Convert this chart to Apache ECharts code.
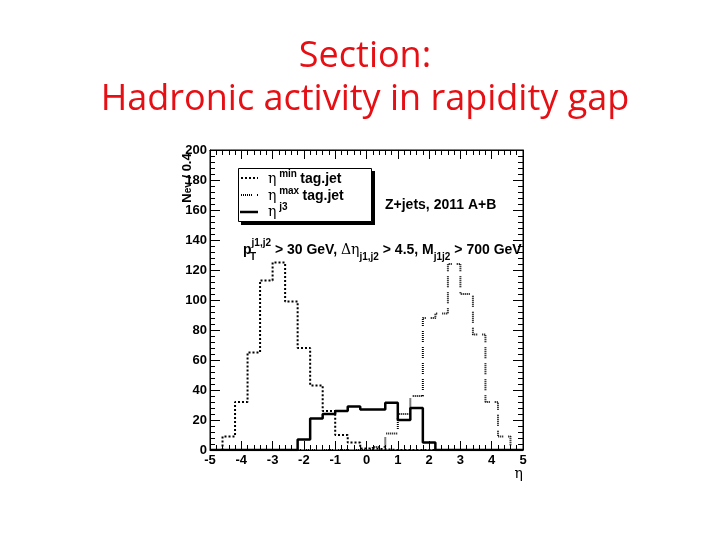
<!DOCTYPE html>
<html>
<head>
<meta charset="utf-8">
<script src="https://cdn.jsdelivr.net/npm/echarts@6/dist/echarts.min.js"></script>
<style>
  html, body { margin: 0; padding: 0; background: #fff; }
  #chart { width: 720px; height: 540px; }
</style>
</head>
<body>
<div id="chart"></div>
<script>
// bin edges in eta (25 bins of 0.4)
const etaEdges = [-5, -4.6, -4.2, -3.8, -3.4, -3, -2.6, -2.2, -1.8, -1.4, -1, -0.6, -0.2,
  0.2, 0.6, 1, 1.4, 1.8, 2.2, 2.6, 3, 3.4, 3.8, 4.2, 4.6, 5];

// events per bin
const etaMinTagJet = [0, 9, 32, 65, 113, 125, 99, 68, 43, 26, 10, 5, 1, 0.5,
  0, 0, 0, 0, 0, 0, 0, 0, 0, 0, 0];
const etaMaxTagJet = [0, 0, 0, 0, 0, 0, 0, 0, 0, 0, 0, 0, 0.5, 2,
  11, 24, 36, 88, 91, 124, 104, 77, 32, 9, 0];
const etaJ3 = [0, 0, 0, 0, 0, 0, 0, 7, 21, 24, 26, 29, 27, 27,
  31.5, 20, 28, 5, 0, 0, 0, 0, 0, 0, 0];

const xRange = [-5, 5];
const yRange = [0, 200];

// histogram outline: one point per left edge, plus the last right edge
function histPoints(vals) {
  return etaEdges.map(function (e, i) {
    return [e, i < vals.length ? vals[i] : vals[vals.length - 1]];
  });
}

var myChart = echarts.init(document.getElementById("chart"));

var labelFont = {
  fontFamily: "Liberation Sans, Arial, sans-serif",
  fontWeight: "bold",
  fontSize: 13,
  color: "#000",
};

var minDash = [2, 2];
var maxDash = [1, 1, 1, 1, 1, 1, 1, 1, 1, 1, 1, 5];

function histSeries(name, vals, width, dash) {
  return {
    name: name,
    type: "line",
    step: "end",
    showSymbol: false,
    symbol: "none",
    data: histPoints(vals),
    lineStyle: { color: "#000", width: width, type: dash },
    emphasis: { disabled: true },
    silent: true,
    z: 3,
  };
}

function sideAxis(pos, range, interval, tickLen) {
  return {
    type: "value",
    position: pos,
    min: range[0],
    max: range[1],
    interval: interval,
    axisLine: { show: true, onZero: false, lineStyle: { color: "#000", width: 1 } },
    axisTick: { show: true, inside: true, length: tickLen, lineStyle: { color: "#000" } },
    minorTick: { show: true, splitNumber: 5, length: 5, lineStyle: { color: "#000" } },
    splitLine: { show: false },
    axisLabel: { show: false },
  };
}

var legendRich = {
  e: { fontFamily: "DejaVu Serif", fontSize: 14, fill: "#000", lineHeight: 20 },
  u: { fontFamily: "Liberation Sans", fontWeight: "bold", fontSize: 10, fill: "#000", verticalAlign: "top", lineHeight: 12 },
  b: { fontFamily: "Liberation Sans", fontWeight: "bold", fontSize: 14, fill: "#000", lineHeight: 20 },
};

myChart.setOption({
  animation: false,
  backgroundColor: "#fff",
  grid: {
    left: 210,
    right: 197,
    top: 150,
    bottom: 90,
    show: true,
    borderColor: "#000",
    borderWidth: 1,
    backgroundColor: "transparent",
  },
  xAxis: [
    {
      type: "value",
      min: xRange[0],
      max: xRange[1],
      interval: 1,
      axisLine: { show: true, onZero: false, lineStyle: { color: "#000", width: 1 } },
      axisTick: { inside: true, length: 9, lineStyle: { color: "#000" } },
      minorTick: { show: true, splitNumber: 5, length: 5, lineStyle: { color: "#000" } },
      splitLine: { show: false },
      axisLabel: Object.assign({ margin: 4 }, labelFont),
    },
    sideAxis("top", xRange, 1, 9),
  ],
  yAxis: [
    {
      type: "value",
      min: yRange[0],
      max: yRange[1],
      interval: 20,
      axisLine: { show: true, onZero: false, lineStyle: { color: "#000", width: 1 } },
      axisTick: { show: true, inside: true, length: 10, lineStyle: { color: "#000" } },
      minorTick: { show: true, splitNumber: 5, length: 5, lineStyle: { color: "#000" } },
      splitLine: { show: false },
      axisLabel: Object.assign({ margin: 3 }, labelFont),
    },
    sideAxis("right", yRange, 20, 10),
  ],
  series: [
    histSeries("η min tag.jet", etaMinTagJet, 2, minDash),
    histSeries("η max tag.jet", etaMaxTagJet, 2, maxDash),
    histSeries("η j3", etaJ3, 2.5, "solid"),
  ],
  graphic: [
    // slide title
    {
      type: "text",
      x: 365,
      y: 57,
      style: {
        text: "Section:",
        font: "36px 'Open Sans', sans-serif",
        fill: "#e60f14",
        textAlign: "center",
        textVerticalAlign: "middle",
      },
    },
    {
      type: "text",
      x: 365,
      y: 100,
      style: {
        text: "Hadronic activity in rapidity gap",
        font: "36px 'Open Sans', sans-serif",
        fill: "#e60f14",
        textAlign: "center",
        textVerticalAlign: "middle",
      },
    },
    // y axis title
    {
      type: "text",
      x: 187,
      y: 178,
      rotation: Math.PI / 2,
      style: {
        text: "{n|N}{s|ev}{n| / 0.4}",
        textAlign: "center",
        textVerticalAlign: "middle",
        rich: {
          n: { fontFamily: "Liberation Sans", fontWeight: "bold", fontSize: 13, fill: "#000" },
          s: { fontFamily: "Liberation Sans", fontWeight: "bold", fontSize: 10, fill: "#000", verticalAlign: "bottom", lineHeight: 12 },
        },
      },
    },
    // x axis title
    {
      type: "text",
      x: 523,
      y: 474,
      style: {
        text: "η",
        font: "14px 'DejaVu Serif', serif",
        fill: "#000",
        textAlign: "right",
        textVerticalAlign: "middle",
      },
    },
    // legend box with shadow
    {
      type: "rect",
      shape: { x: 241, y: 171, width: 134, height: 54 },
      style: { fill: "#000" },
      z: 10,
    },
    {
      type: "rect",
      shape: { x: 238.5, y: 168.5, width: 133, height: 53 },
      style: { fill: "#fff", stroke: "#000", lineWidth: 1 },
      z: 11,
    },
    {
      type: "line",
      shape: { x1: 241, y1: 178, x2: 258, y2: 178 },
      style: { stroke: "#000", lineWidth: 2, lineDash: minDash },
      z: 12,
    },
    {
      type: "line",
      shape: { x1: 241, y1: 195, x2: 258, y2: 195 },
      style: { stroke: "#000", lineWidth: 2, lineDash: maxDash },
      z: 12,
    },
    {
      type: "line",
      shape: { x1: 240, y1: 212, x2: 258, y2: 212 },
      style: { stroke: "#000", lineWidth: 2.5 },
      z: 12,
    },
    {
      type: "text",
      x: 268,
      y: 179,
      z: 12,
      style: { text: "{e|η}{u| min} {b|tag.jet}", textVerticalAlign: "middle", rich: legendRich },
    },
    {
      type: "text",
      x: 268,
      y: 196,
      z: 12,
      style: { text: "{e|η}{u| max} {b|tag.jet}", textVerticalAlign: "middle", rich: legendRich },
    },
    {
      type: "text",
      x: 268,
      y: 212,
      z: 12,
      style: { text: "{e|η}{u| j3}", textVerticalAlign: "middle", rich: legendRich },
    },
    // dataset label
    {
      type: "text",
      x: 385,
      y: 205,
      style: {
        text: "Z+jets, 2011 A+B",
        font: "bold 14px 'Liberation Sans', Arial, sans-serif",
        fill: "#000",
        textVerticalAlign: "middle",
      },
    },
    // selection cuts
    {
      type: "text",
      x: 243,
      y: 250,
      z: 12,
      style: {
        text: "{m|p}{u|j1,j2}{m| > 30 GeV, }{g|Δη}{d|j1,j2}{m| > 4.5, M}{d|j1j2}{m| > 700 GeV}",
        textVerticalAlign: "middle",
        rich: {
          m: { fontFamily: "Liberation Sans", fontWeight: "bold", fontSize: 14, fill: "#000", lineHeight: 24 },
          g: { fontFamily: "DejaVu Serif", fontSize: 14, fill: "#000", lineHeight: 24 },
          u: { fontFamily: "Liberation Sans", fontWeight: "bold", fontSize: 10, fill: "#000", verticalAlign: "top", lineHeight: 10 },
          d: { fontFamily: "Liberation Sans", fontWeight: "bold", fontSize: 10, fill: "#000", verticalAlign: "bottom", lineHeight: 12 },
        },
      },
    },
    {
      type: "text",
      x: 250,
      y: 257,
      z: 12,
      style: {
        text: "T",
        font: "bold 10px 'Liberation Sans', Arial, sans-serif",
        fill: "#000",
        textVerticalAlign: "middle",
      },
    },
  ],
});
</script>
</body>
</html>
